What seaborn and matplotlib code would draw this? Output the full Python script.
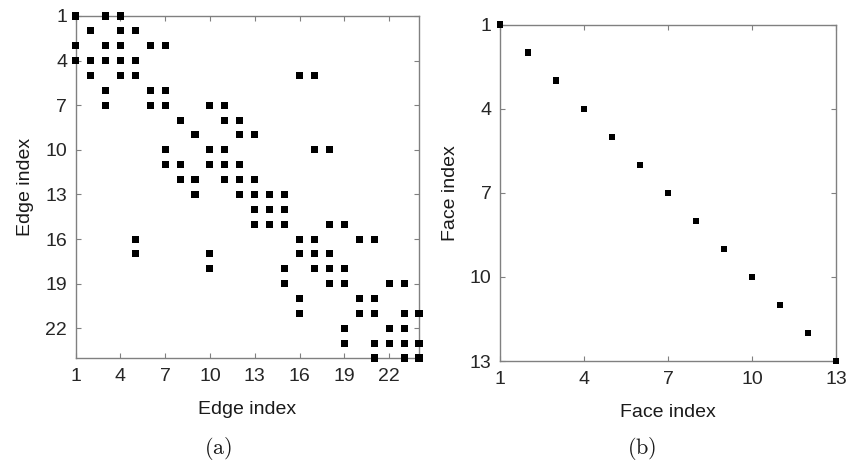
import matplotlib
matplotlib.use("Agg")
import matplotlib.pyplot as plt
import seaborn as sns
import pandas as pd

# Edge-edge sparsity pattern (row index, column index)
edge_row = [1, 1, 1,
            2, 2, 2,
            3, 3, 3, 3, 3,
            4, 4, 4, 4, 4,
            5, 5, 5, 5, 5,
            6, 6, 6,
            7, 7, 7, 7, 7,
            8, 8, 8,
            9, 9, 9,
            10, 10, 10, 10, 10,
            11, 11, 11, 11, 11,
            12, 12, 12, 12, 12,
            13, 13, 13, 13, 13,
            14, 14, 14,
            15, 15, 15, 15, 15,
            16, 16, 16, 16, 16,
            17, 17, 17, 17, 17,
            18, 18, 18, 18, 18,
            19, 19, 19, 19, 19,
            20, 20, 20,
            21, 21, 21, 21, 21,
            22, 22, 22,
            23, 23, 23, 23, 23,
            24, 24, 24]
edge_col = [1, 3, 4,
            2, 4, 5,
            1, 3, 4, 6, 7,
            1, 2, 3, 4, 5,
            2, 4, 5, 16, 17,
            3, 6, 7,
            3, 6, 7, 10, 11,
            8, 11, 12,
            9, 12, 13,
            7, 10, 11, 17, 18,
            7, 8, 10, 11, 12,
            8, 9, 11, 12, 13,
            9, 12, 13, 14, 15,
            13, 14, 15,
            13, 14, 15, 18, 19,
            5, 16, 17, 20, 21,
            5, 10, 16, 17, 18,
            10, 15, 17, 18, 19,
            15, 18, 19, 22, 23,
            16, 20, 21,
            16, 20, 21, 23, 24,
            19, 22, 23,
            19, 21, 22, 23, 24,
            21, 23, 24]

# Face-face pattern (diagonal)
face_row = [1, 2, 3, 4, 5, 6, 7, 8, 9, 10, 11, 12, 13]
face_col = [1, 2, 3, 4, 5, 6, 7, 8, 9, 10, 11, 12, 13]

edge_ticks = [1, 4, 7, 10, 13, 16, 19, 22]
face_ticks = [1, 4, 7, 10, 13]

sns.set_style("white")
plt.rcParams['font.family'] = ['Liberation Sans', 'DejaVu Sans']
plt.rcParams['mathtext.fontset'] = 'cm'

fig = plt.figure(figsize=(8.5, 4.66), dpi=100)
axL = fig.add_axes([75.5/850, 1-358/466, (419-75.5)/850, (358-16)/466])
axR = fig.add_axes([500/850, 1-361/466, 336/850, (361-24.7)/466])

df_e = pd.DataFrame({"col": edge_col, "row": edge_row})
df_f = pd.DataFrame({"col": face_col, "row": face_row})

spine_c = '#808080'
text_c = '#262626'

def style(ax, ticks, lim, label):
    ax.set_xlim(1, lim)
    ax.set_ylim(lim, 1)
    ax.set_xticks(ticks)
    ax.set_yticks(ticks)
    ax.set_xticklabels([str(t) for t in ticks])
    ax.set_yticklabels([str(t) for t in ticks])
    for s in ax.spines.values():
        s.set_color(spine_c)
        s.set_linewidth(1.0)
        s.set_visible(True)
    ax.tick_params(axis='both', direction='in', length=3.5, width=0.8,
                   color=spine_c, labelcolor=text_c, labelsize=14,
                   top=True, right=True, bottom=True, left=True)
    ax.tick_params(axis='x', pad=7)
    ax.tick_params(axis='y', pad=6)
    ax.set_xlabel(label, fontsize=14, color='#1a1a1a', labelpad=12)
    ax.set_ylabel(label, fontsize=14, color='#1a1a1a', labelpad=8)

sns.scatterplot(data=df_e, x="col", y="row", marker='s', s=26, color='black',
                edgecolor='none', linewidth=0, ax=axL, clip_on=False, zorder=5)
sns.scatterplot(data=df_f, x="col", y="row", marker='s', s=22, color='black',
                edgecolor='none', linewidth=0, ax=axR, clip_on=False, zorder=5)

style(axL, edge_ticks, 24, "Edge index")
style(axR, face_ticks, 13, "Face index")

fig.text(218/850, 1-448/466, r'$\mathrm{(a)}$', ha='center', va='center', fontsize=16, color='#1a1a1a')
fig.text(642/850, 1-448/466, r'$\mathrm{(b)}$', ha='center', va='center', fontsize=16, color='#1a1a1a')

fig.savefig("out.png", dpi=100)
